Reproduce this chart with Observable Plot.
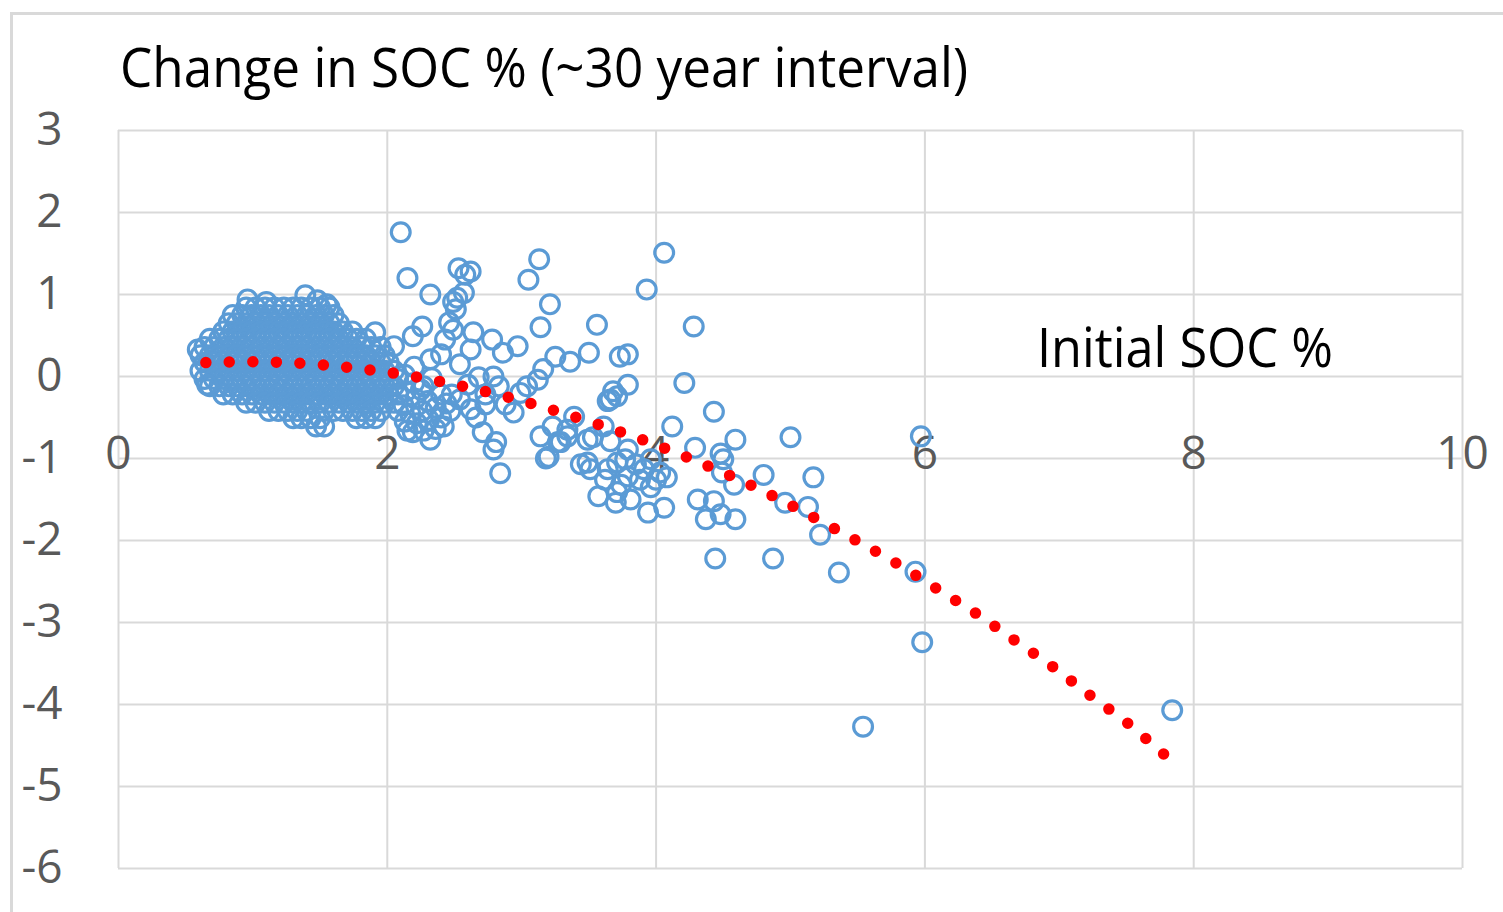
<!DOCTYPE html>
<html><head><meta charset="utf-8">
<script src="https://cdn.jsdelivr.net/npm/d3@7"></script>
<script src="https://cdn.jsdelivr.net/npm/@observablehq/plot@0.6"></script>
<style>
html,body{margin:0;padding:0;background:#fff;overflow:hidden;}
#wrap{position:relative;width:1503px;height:912px;overflow:hidden;background:#fff;}
#frame{position:absolute;left:10px;top:12px;width:1600px;height:1000px;border-left:3px solid #d9d9d9;border-top:3px solid #d9d9d9;}
#chart{position:absolute;left:0;top:0;}
</style></head><body>
<div id="wrap"><div id="frame"></div><div id="chart"></div></div>
<script>
const titleText = "Change in SOC % (~30 year interval)";
const xAxisTitle = "Initial SOC %";
const xTicks = [0, 2, 4, 6, 8, 10];
const yTicks = [3, 2, 1, 0, -1, -2, -3, -4, -5, -6];

// dense cluster of points (Initial SOC %, Change), given as rows: [change, [initial SOC values]]
const clusterRows = [
  [0.84, [0.95, 1.02, 1.09, 1.16, 1.23, 1.30, 1.36, 1.43, 1.50, 1.57]],
  [0.75, [0.85, 0.92, 0.99, 1.06, 1.12, 1.19, 1.26, 1.33, 1.40, 1.47, 1.53, 1.60]],
  [0.65, [0.82, 0.88, 0.95, 1.02, 1.09, 1.16, 1.23, 1.30, 1.36, 1.43, 1.50, 1.57, 1.64]],
  [0.55, [0.78, 0.85, 0.92, 0.99, 1.06, 1.12, 1.19, 1.26, 1.33, 1.40, 1.47, 1.53, 1.60, 1.67, 1.74]],
  [0.46, [0.68, 0.75, 0.82, 0.88, 0.95, 1.02, 1.09, 1.16, 1.23, 1.30, 1.36, 1.43, 1.50, 1.57, 1.64, 1.71, 1.77, 1.84]],
  [0.36, [0.64, 0.71, 0.78, 0.85, 0.92, 0.99, 1.06, 1.12, 1.19, 1.26, 1.33, 1.40, 1.47, 1.53, 1.60, 1.67, 1.74, 1.81, 1.88, 1.95]],
  [0.26, [0.61, 0.68, 0.75, 0.82, 0.88, 0.95, 1.02, 1.09, 1.16, 1.23, 1.30, 1.36, 1.43, 1.50, 1.57, 1.64, 1.71, 1.77, 1.84, 1.91, 1.98]],
  [0.17, [0.64, 0.71, 0.78, 0.85, 0.92, 0.99, 1.06, 1.12, 1.19, 1.26, 1.33, 1.40, 1.47, 1.53, 1.60, 1.67, 1.74, 1.81, 1.88, 1.95, 2.01]],
  [0.07, [0.61, 0.68, 0.75, 0.82, 0.88, 0.95, 1.02, 1.09, 1.16, 1.23, 1.30, 1.36, 1.43, 1.50, 1.57, 1.64, 1.71, 1.77, 1.84, 1.91, 1.98, 2.05]],
  [-0.03, [0.64, 0.71, 0.78, 0.85, 0.92, 0.99, 1.06, 1.12, 1.19, 1.26, 1.33, 1.40, 1.47, 1.53, 1.60, 1.67, 1.74, 1.81, 1.88, 1.95, 2.01, 2.08]],
  [-0.12, [0.68, 0.75, 0.82, 0.88, 0.95, 1.02, 1.09, 1.16, 1.23, 1.30, 1.36, 1.43, 1.50, 1.57, 1.64, 1.71, 1.77, 1.84, 1.91, 1.98, 2.05]],
  [-0.22, [0.78, 0.85, 0.92, 0.99, 1.06, 1.12, 1.19, 1.26, 1.33, 1.40, 1.47, 1.53, 1.60, 1.67, 1.74, 1.81, 1.88, 1.95, 2.01, 2.08]],
  [-0.32, [0.95, 1.02, 1.09, 1.16, 1.23, 1.30, 1.36, 1.43, 1.50, 1.57, 1.64, 1.71, 1.77, 1.84, 1.91, 1.98, 2.05]],
  [-0.42, [1.12, 1.19, 1.26, 1.33, 1.40, 1.53, 1.60, 1.67, 1.74, 1.81, 1.88, 1.95, 2.08]],
  [-0.51, [1.30, 1.36, 1.43, 1.50, 1.77, 1.84, 1.91]],
  [-0.61, [1.47, 1.53]]
];

// loose points at the edges of the dense cluster [Initial SOC %, Change in SOC %]
const clusterEdgePoints = [
  [0.96,0.94],[1.10,0.91],[1.39,0.99],[1.48,0.93],[1.55,0.88],[0.59,0.33],[0.66,-0.10],
  [2.13,0.02],[2.20,-0.08],[2.14,-0.18],[2.27,-0.12],[2.21,-0.27],[2.12,-0.35],[2.30,-0.30],[2.17,-0.45],
  [2.26,-0.42],[2.36,-0.38],[2.13,-0.55],[2.22,-0.57],[2.31,-0.53],[2.40,-0.50],[2.27,-0.66],[2.36,-0.64],
  [2.15,-0.66],[2.44,-0.33],[2.48,-0.22],[2.33,-0.02],[2.20,0.12]
];

// scattered points [Initial SOC %, Change in SOC %]
const scatterPoints = [
  [2.10,1.76],[2.15,1.20],[2.32,1.00],[2.53,1.32],[2.62,1.28],[2.58,1.24],[2.52,0.96],[2.57,1.02],[2.49,0.91],
  [3.13,1.43],[3.05,1.18],[3.21,0.88],[3.14,0.60],[3.56,0.63],[2.46,0.66],[2.49,0.57],[2.51,0.82],[2.19,0.49],
  [2.26,0.61],[2.64,0.54],[2.78,0.45],[2.97,0.37],[2.86,0.29],[1.91,0.54],[2.05,0.37],[3.25,0.24],[3.36,0.18],
  [3.50,0.29],[3.16,0.09],[3.12,-0.04],[3.04,-0.12],[3.68,-0.18],[3.66,-0.28],[3.71,-0.24],[3.79,0.27],[4.21,-0.08],
  [3.79,-0.10],[3.64,-0.30],[2.62,-0.40],[2.79,0.00],[2.83,-0.12],[2.71,-0.68],[2.81,-0.80],[2.84,-1.18],[2.79,-0.89],
  [2.94,-0.44],[3.14,-0.73],[3.23,-0.61],[3.27,-0.80],[3.20,-0.98],[3.18,-1.00],[3.39,-0.49],[2.42,-0.61],[2.32,-0.77],
  [2.19,-0.68],[3.49,-0.77],[3.61,-0.61],[3.73,0.24],[2.99,-0.20],[2.88,-0.34],[2.73,-0.22],[2.68,-0.01],[2.60,-0.10],
  [2.54,0.15],[2.40,0.27],[2.32,0.21],[2.43,0.45],[2.62,0.33],[2.73,-0.34],[2.54,-0.28],[2.40,-0.22],[2.25,-0.16],
  [2.66,-0.50],[2.47,-0.42],
  [3.34,-0.73],[3.34,-0.65],[3.53,-0.74],[3.29,-0.80],[3.49,-1.05],[3.44,-1.07],[3.51,-1.13],[3.64,-1.13],[3.71,-1.05],
  [3.79,-1.22],[3.91,-1.13],[4.03,-1.17],[4.08,-1.23],[3.57,-1.46],[3.71,-1.41],[3.70,-1.54],[3.81,-1.50],[3.94,-1.66],
  [4.06,-1.60],[3.66,-0.79],[3.79,-0.89],[4.12,-0.61],[3.88,-1.26],[3.96,-1.35],[3.74,-1.32],[3.62,-1.26],[3.85,-1.07],
  [3.96,-1.01],[4.00,-1.26],[3.77,-1.01],
  [4.43,-0.43],[4.29,-0.87],[4.59,-0.77],[5.00,-0.74],[5.97,-0.73],[4.48,-0.94],[4.50,-1.01],[4.49,-1.17],[4.58,-1.32],
  [4.80,-1.20],[5.17,-1.23],[4.31,-1.50],[4.43,-1.52],[4.37,-1.74],[4.48,-1.68],[4.59,-1.74],[4.96,-1.54],[5.13,-1.59],
  [5.22,-1.93],[4.44,-2.22],[4.87,-2.22],[5.36,-2.39],[5.93,-2.38],[4.28,0.61],[4.06,1.51],[3.93,1.06],
  [5.98,-3.24],[5.54,-4.27],[7.84,-4.07]
];

// polynomial trend line
const trendPoints = [
  [0.65,0.17],[1.00,0.18],[1.37,0.16],[1.71,0.11],[2.05,0.04],[2.39,-0.06],[2.72,-0.18],[3.05,-0.32],
  [3.37,-0.48],[3.69,-0.65],[4.01,-0.84],[4.31,-1.04],[4.62,-1.26],[4.92,-1.50],[5.22,-1.76],[5.51,-2.02],
  [5.80,-2.29],[6.09,-2.59],[6.39,-2.90],[6.67,-3.22],[6.96,-3.55],[7.23,-3.89],[7.51,-4.23],[7.78,-4.61]
];

const points = clusterRows.flatMap(([y, xs]) => xs.map(x => [x, y]))
  .concat(clusterEdgePoints, scatterPoints);

const plot = Plot.plot({
  width: 1503,
  height: 912,
  marginLeft: 118,
  marginRight: 41,
  marginTop: 130,
  marginBottom: 44,
  x: {domain: [0, 10], axis: null},
  y: {domain: [-6, 3], axis: null},
  style: {fontFamily: "'Open Sans', sans-serif", background: "transparent", overflow: "visible"},
  marks: [
    Plot.gridX(xTicks, {stroke: "#d9d9d9", strokeOpacity: 1, strokeWidth: 2}),
    Plot.gridY(yTicks, {stroke: "#d9d9d9", strokeOpacity: 1, strokeWidth: 2}),
    Plot.text(yTicks, {x: () => 0, y: d => d, text: d => String(d), textAnchor: "end", dx: -56, fontSize: 46, fill: "#595959"}),
    Plot.text(xTicks, {x: d => d, y: () => 0, text: d => String(d), dy: 78, fontSize: 46, fill: "#595959"}),
    Plot.dot(points, {x: d => d[0], y: d => d[1], r: 9.4, stroke: "#5B9BD5", strokeWidth: 3.2, fill: "none"}),
    Plot.line(trendPoints, {x: d => d[0], y: d => d[1], stroke: "#FF0000", strokeWidth: 11.5, strokeDasharray: "0 23.5", strokeLinecap: "round", curve: "catmull-rom"})
  ]
});

const svg = d3.select(plot);
svg.append("text")
  .attr("x", 120).attr("y", 87)
  .attr("text-anchor", "start")
  .attr("font-size", 54).attr("fill", "#000")
  .attr("textLength", 848).attr("lengthAdjust", "spacingAndGlyphs")
  .text(titleText);
svg.append("text")
  .attr("x", 1037).attr("y", 367)
  .attr("text-anchor", "start")
  .attr("font-size", 54).attr("fill", "#000")
  .attr("textLength", 296).attr("lengthAdjust", "spacingAndGlyphs")
  .text(xAxisTitle);

document.getElementById("chart").appendChild(plot);
</script>
</body></html>
